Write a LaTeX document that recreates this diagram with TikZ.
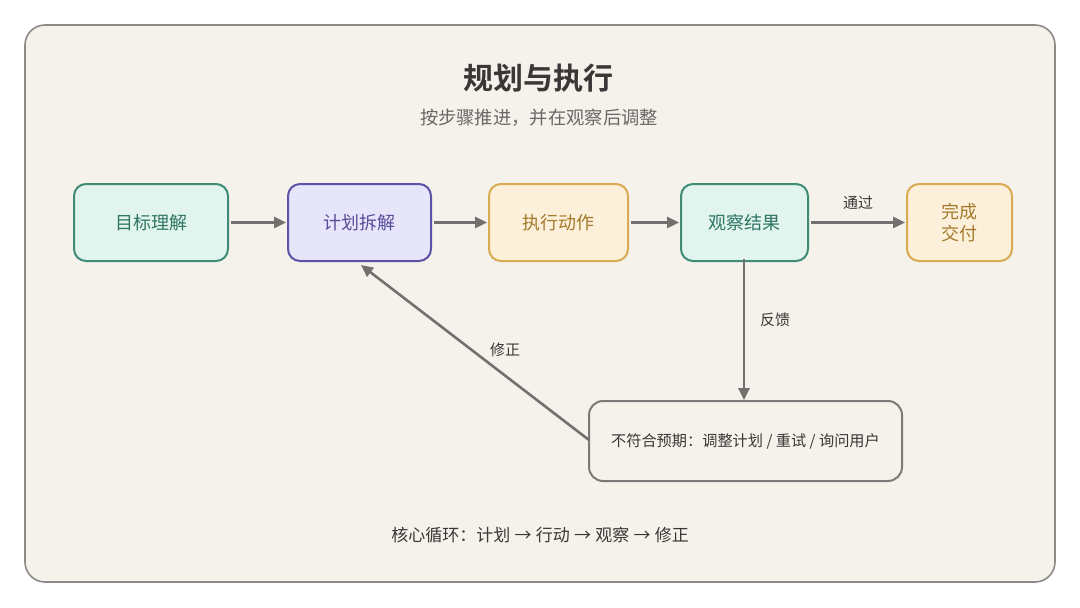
\documentclass[tikz,border=0pt]{standalone}
\usepackage{fontspec}
\setmainfont{Noto Sans CJK SC}
\newfontfamily\cjkb{Noto Sans CJK SC Bold}
\usetikzlibrary{arrows.meta}
\definecolor{bg}{HTML}{F5F2EC}
\definecolor{frame}{HTML}{8C8A86}
\definecolor{tealfill}{HTML}{E2F4EE}
\definecolor{tealline}{HTML}{3F8C76}
\definecolor{tealtext}{HTML}{2E7562}
\definecolor{purpfill}{HTML}{E7E5FA}
\definecolor{purpline}{HTML}{5C52A8}
\definecolor{purptext}{HTML}{574C98}
\definecolor{orfill}{HTML}{FCF0DA}
\definecolor{orline}{HTML}{D8AA52}
\definecolor{ortext}{HTML}{A57A2C}
\definecolor{arr}{HTML}{737170}
\definecolor{boxline}{HTML}{7C7A78}
\definecolor{dark}{HTML}{3A3836}
\definecolor{sub}{HTML}{6A6866}
\tikzset{
  stepbox/.style={draw, line width=2pt, rounded corners=12pt, align=center, font=\fontsize{18}{22}\selectfont, inner sep=0pt},
  teal/.style={stepbox, fill=tealfill, draw=tealline, text=tealtext},
  purp/.style={stepbox, fill=purpfill, draw=purpline, text=purptext},
  oran/.style={stepbox, fill=orfill, draw=orline, text=ortext},
  conn/.style={draw=arr, line width=2.6pt, -{Triangle[length=12pt,width=11pt]}},
  lbl/.style={font=\fontsize{15}{17}\selectfont, text=dark},
}
\newcommand{\rar}{\hspace{0.25em}→\hspace{0.25em}}
\begin{document}
\begin{tikzpicture}[x=1pt,y=-1pt]
\useasboundingbox (0,0) rectangle (1080,608);
\fill[white] (0,0) rectangle (1080,608);
\draw[fill=bg, draw=frame, line width=1.6pt, rounded corners=20pt] (25,25) rectangle (1055,582);
\node[font=\cjkb\fontsize{30}{34}\selectfont, text=dark] (title) at (538,78) {规划与执行};
\node[font=\fontsize{18.3}{21}\selectfont, text=sub] (subt) at (539,118) {按步骤推进，并在观察后调整};

\node[teal, minimum width=154pt, minimum height=77pt] (n1) at (151,222.5) {目标理解};
\node[purp, minimum width=143pt, minimum height=77pt] (n2) at (359.5,222.5) {计划拆解};
\node[oran, minimum width=139pt, minimum height=77pt] (n3) at (558.5,222.5) {执行动作};
\node[teal, minimum width=127pt, minimum height=77pt] (n4) at (744.5,222.5) {观察结果};
\node[oran, minimum width=105pt, minimum height=77pt] (n5) at (959.5,222.5) {完成\\交付};
\node[draw=boxline, fill=bg, line width=2pt, rounded corners=14pt, minimum width=313pt, minimum height=80pt, font=\fontsize{15.2}{17}\selectfont, text=dark] (n6) at (745.5,441) {不符合预期：调整计划 / 重试 / 询问用户};

\draw[conn] ([xshift=2pt]n1.east) -- ([xshift=-1pt]n2.west);
\draw[conn] ([xshift=2pt]n2.east) -- ([xshift=-1pt]n3.west);
\draw[conn] ([xshift=2pt]n3.east) -- ([xshift=-1pt]n4.west);
\draw[conn] ([xshift=2pt]n4.east) -- node[lbl, above=8pt] (l1) {通过} ([xshift=-1pt]n5.west);
\draw[conn] ([yshift=3pt]n4.south) ++(-0.5,0) coordinate (b1) -- (b1 |- n6.north);
\node[lbl] (l2) at (775,320) {反馈};
\coordinate (c1) at (589,440);
\coordinate (c2) at (361,265);
\draw[conn] (c1) -- (c2);
\node[lbl] (l3) at (505,350) {修正};
\node[font=\fontsize{17}{20}\selectfont, text=dark] (foot) at (540,535) {核心循环：计划\rar 行动\rar 观察\rar 修正};
\end{tikzpicture}
\end{document}
